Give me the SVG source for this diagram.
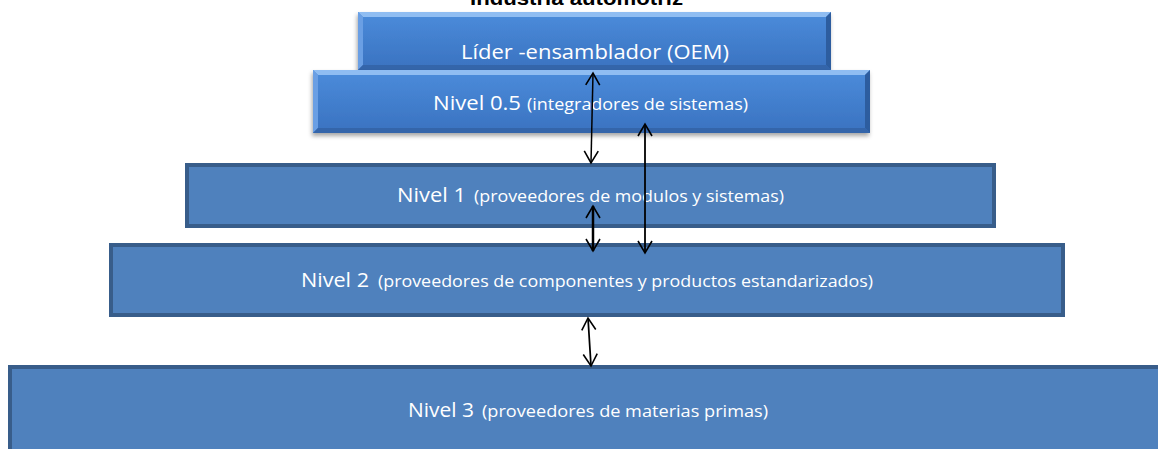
<svg xmlns="http://www.w3.org/2000/svg" width="1158" height="449" viewBox="0 0 1158 449">
<style>
.lbl{font-family:"Open Sans","Liberation Sans",sans-serif;fill:#ffffff}
.big{font-size:20px}
.sm{font-size:16px}
.flat{fill:#4F81BD;stroke:#385D8A;stroke-width:4}
.arr{stroke:#000;fill:none;marker-start:url(#ah);marker-end:url(#ah)}
.hl{fill:#8FBDF2}
.hl2{fill:#6A9FE4}
.dk{fill:#2D5D9F}
.dk2{fill:#3465AA}
</style>
<defs>
<linearGradient id="bv" x1="0" y1="0" x2="0" y2="1">
<stop offset="0" stop-color="#4B8CDB"/>
<stop offset="1" stop-color="#3A72C0"/>
</linearGradient>
<filter id="sh" x="-5%" y="-20%" width="110%" height="150%">
<feDropShadow dx="-1" dy="3" stdDeviation="2" flood-color="#000" flood-opacity="0.35"/>
</filter>
<marker id="ah" viewBox="-14 -9 16 18" refX="0" refY="0" markerWidth="16" markerHeight="18" markerUnits="userSpaceOnUse" orient="auto-start-reverse">
<path d="M-12,-7 L0,0 L-12,7" fill="none" stroke="#000" stroke-width="1.6"/>
</marker>
</defs>
<text x="470" y="5" font-family="Liberation Sans, sans-serif" font-weight="bold" font-size="20" textLength="213" lengthAdjust="spacingAndGlyphs" fill="#000">Industria automotriz</text>
<g id="oem">
<rect x="358" y="12" width="473" height="58" fill="url(#bv)" filter="url(#sh)"/>
<polygon class="hl" points="358,12 831,12 826,17 363,17"/>
<polygon class="hl2" points="358,12 363,17 363,65 358,70"/>
<polygon class="dk" points="831,12 831,70 826,65 826,17"/>
<polygon class="dk2" points="358,70 831,70 826,65 363,65"/>
<text class="lbl big" x="461" y="59" textLength="268" lengthAdjust="spacingAndGlyphs">Líder -ensamblador (OEM)</text>
</g>
<g id="nivel05">
<rect x="313" y="70" width="557" height="63" fill="url(#bv)" filter="url(#sh)"/>
<polygon class="hl" points="313,70 870,70 865,75 318,75"/>
<polygon class="hl2" points="313,70 318,75 318,128 313,133"/>
<polygon class="dk" points="870,70 870,133 865,128 865,75"/>
<polygon class="dk2" points="313,133 870,133 865,128 318,128"/>
<text class="lbl big" x="433" y="110" textLength="88" lengthAdjust="spacingAndGlyphs">Nivel 0.5</text>
<text class="lbl sm" x="527" y="110" textLength="221" lengthAdjust="spacingAndGlyphs">(integradores de sistemas)</text>
</g>
<g id="nivel1">
<rect class="flat" x="187" y="165" width="807" height="61"/>
<text class="lbl big" x="397" y="202" textLength="69" lengthAdjust="spacingAndGlyphs">Nivel 1</text>
<text class="lbl sm" x="474" y="202" textLength="310" lengthAdjust="spacingAndGlyphs">(proveedores de modulos y sistemas)</text>
</g>
<g id="nivel2">
<rect class="flat" x="111" y="245" width="952" height="70"/>
<text class="lbl big" x="301" y="287" textLength="68" lengthAdjust="spacingAndGlyphs">Nivel 2</text>
<text class="lbl sm" x="378" y="287" textLength="495" lengthAdjust="spacingAndGlyphs">(proveedores de componentes y productos estandarizados)</text>
</g>
<g id="nivel3">
<rect class="flat" x="10" y="367" width="1160" height="100"/>
<text class="lbl big" x="408" y="417" textLength="66" lengthAdjust="spacingAndGlyphs">Nivel 3</text>
<text class="lbl sm" x="482" y="417" textLength="286" lengthAdjust="spacingAndGlyphs">(proveedores de materias primas)</text>
</g>
<g id="connectors">
<line class="arr" x1="593" y1="73" x2="591" y2="163" stroke-width="1.5"/>
<line class="arr" x1="593" y1="206" x2="593" y2="251" stroke-width="2.5"/>
<line class="arr" x1="645" y1="124" x2="645" y2="253" stroke-width="1.8"/>
<line class="arr" x1="588" y1="318" x2="591" y2="366" stroke-width="1.8"/>
</g>
</svg>
